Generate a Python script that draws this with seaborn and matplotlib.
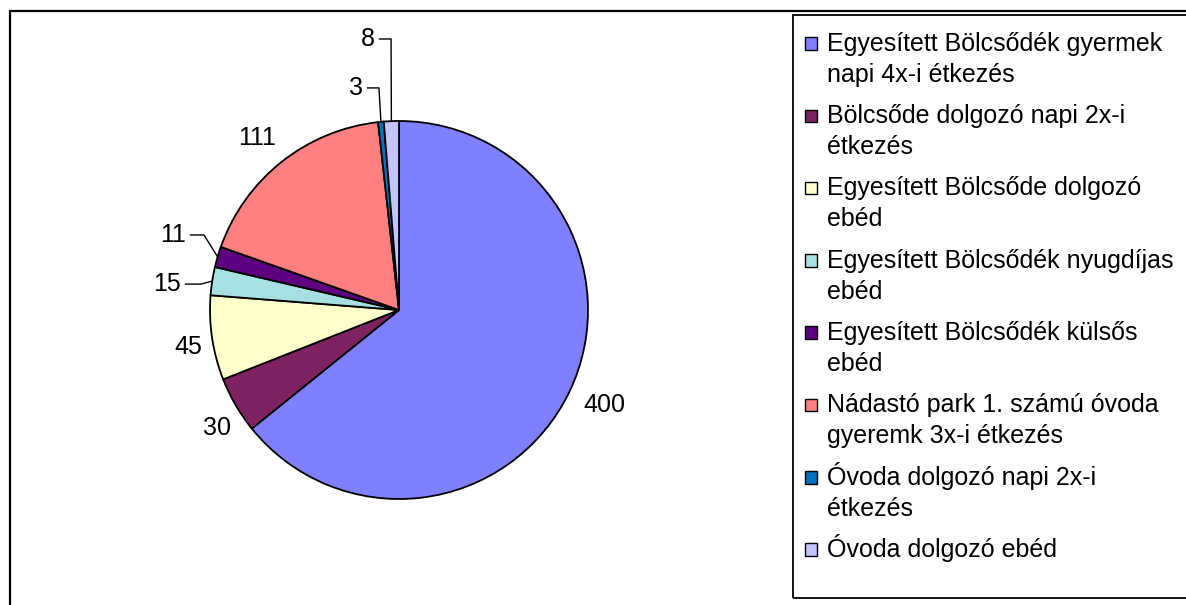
import matplotlib
matplotlib.use("Agg")
import numpy as np
import matplotlib.pyplot as plt
import seaborn as sns
from matplotlib.patches import Rectangle

# Meal counts per category
categories = [
    "Egyesített Bölcsődék gyermek\nnapi 4x-i étkezés",
    "Bölcsőde dolgozó napi 2x-i\nétkezés",
    "Egyesített Bölcsőde dolgozó\nebéd",
    "Egyesített Bölcsődék nyugdíjas\nebéd",
    "Egyesített Bölcsődék külsős\nebéd",
    "Nádastó park 1. számú óvoda\ngyeremk 3x-i étkezés",
    "Óvoda dolgozó napi 2x-i\nétkezés",
    "Óvoda dolgozó ebéd",
]
values = [400, 30, 45, 15, 11, 111, 3, 8]
colors = ["#8080FF", "#7F2262", "#FFFFCC", "#A6E0E0",
          "#5E0080", "#FF8080", "#0070C0", "#C4C4FF"]

sns.set_theme(style="white")
plt.rcParams["font.family"] = ["Liberation Sans", "DejaVu Sans"]

W, H, DPI = 11.86, 6.05, 100
FW, FH = W * DPI, H * DPI
fig = plt.figure(figsize=(W, H), dpi=DPI)
fig.patch.set_facecolor("white")

# pie axes fills the figure; limits chosen so 1 data unit = R pixels both ways
R = 189.0
cx, cy = 399.0, 310.0
ax = fig.add_axes([0, 0, 1, 1])
palette = sns.color_palette(colors)
wedges, _ = ax.pie(values, colors=palette, startangle=90, counterclock=False,
                   wedgeprops=dict(edgecolor="black", linewidth=1.3))
ax.set_xlim(-cx / R, (FW - cx) / R)
ax.set_ylim(-(FH - cy) / R, cy / R)
ax.set_aspect("auto")
ax.axis("off")

FS = 18

# value label centres for the wide slices (in pie radius units)
label_pos = {
    0: (1.085, -0.503),
    1: (-0.963, -0.624),
    2: (-1.116, -0.196),
    5: (-0.751, 0.910),
}
# leader-line placements for the thin slices: (text right x, text y, elbow x)
leaders = {
    3: (-1.153, 0.137, -1.048),
    4: (-1.127, 0.397, -1.032),
    6: (-0.190, 1.175, -0.106),
    7: (-0.127, 1.434, -0.042),
}
for i, (w, v) in enumerate(zip(wedges, values)):
    mid = np.deg2rad((w.theta1 + w.theta2) / 2)
    ex, ey = np.cos(mid), np.sin(mid)
    if i in leaders:
        tx, ty, elx = leaders[i]
        ax.text(tx, ty, str(v), ha="right", va="center", fontsize=FS, color="black")
        ax.plot([tx + 0.02, elx, ex], [ty, ty, ey], color="black", lw=1.0,
                solid_capstyle="butt")
    else:
        px, py = label_pos[i]
        ax.text(px, py, str(v), ha="center", va="center", fontsize=FS, color="black")

# outer chart frame (left and top edges visible)
fig.add_artist(Rectangle((10 / FW, -0.5), 2.0, 0.5 + 1 - 10.5 / FH,
                         transform=fig.transFigure, fill=False,
                         edgecolor="black", linewidth=1.6))

# legend box
lx0, ly0, ly1 = 793, 15, 598
fig.add_artist(Rectangle((lx0 / FW, 1 - ly1 / FH), 1.0, (ly1 - ly0) / FH,
                         transform=fig.transFigure, fill=False,
                         edgecolor="black", linewidth=1.3))

# legend entries: square swatch plus wrapped label
first_y, step, sq, line_h = 43.5, 72.3, 12.5, 31.0
for i, (lab, col) in enumerate(zip(categories, palette)):
    yc = first_y + i * step
    fig.add_artist(Rectangle(((811 - sq / 2) / FW, 1 - (yc + sq / 2) / FH),
                             sq / FW, sq / FH,
                             transform=fig.transFigure, facecolor=col,
                             edgecolor="black", linewidth=1.0))
    for k, line in enumerate(lab.split("\n")):
        base = yc + 7.3 + k * line_h
        fig.text(827 / FW, 1 - base / FH, line, ha="left", va="baseline",
                 fontsize=FS, color="black")

fig.savefig("out.png", dpi=DPI, facecolor="white")
